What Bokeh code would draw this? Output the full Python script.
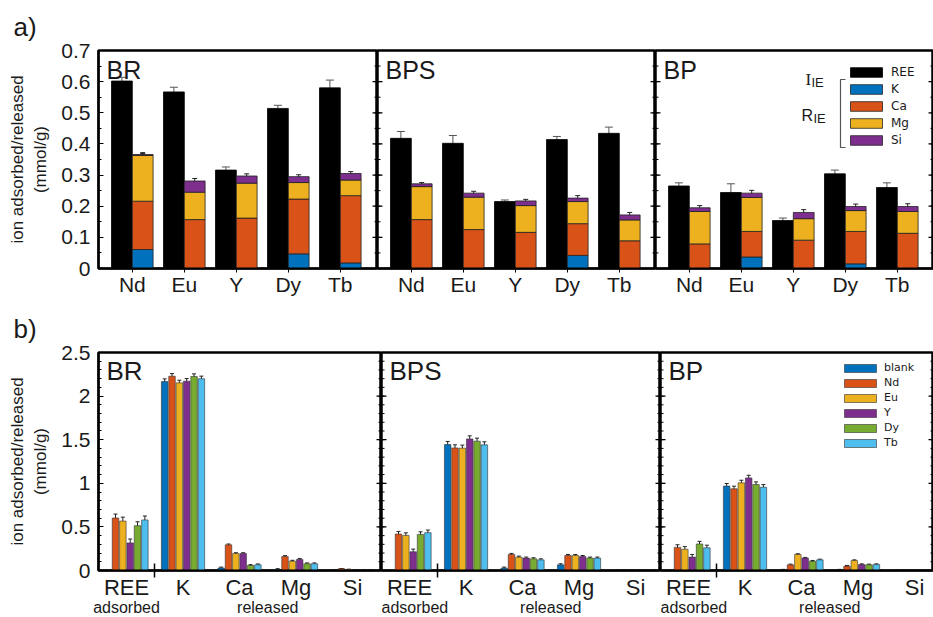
from bokeh.plotting import figure
from bokeh.models import (ColumnDataSource, FixedTicker, LinearAxis, Range1d,
                          Whisker, TeeHead, Legend, LegendItem, Label, Title)
from bokeh.layouts import row, column
from bokeh.embed import file_html
from bokeh.resources import INLINE

# ---------------- data ----------------
elements = ["Nd", "Eu", "Y", "Dy", "Tb"]
components = ["K", "Ca", "Mg", "Si"]

# panel a: REE adsorbed (I_IE) and ions released (R_IE), mmol/g
BR_REE = [0.602, 0.567, 0.316, 0.514, 0.580]
BR_REE_err = [0.012, 0.015, 0.010, 0.010, 0.025]
BR_K = [0.061, 0.0, 0.0, 0.047, 0.018]
BR_Ca = [0.155, 0.157, 0.162, 0.176, 0.216]
BR_Mg = [0.147, 0.088, 0.112, 0.053, 0.050]
BR_Si = [0.003, 0.036, 0.023, 0.019, 0.021]
BR_R_err = [0.006, 0.008, 0.007, 0.006, 0.006]

BPS_REE = [0.418, 0.402, 0.215, 0.414, 0.434]
BPS_REE_err = [0.022, 0.025, 0.005, 0.010, 0.020]
BPS_K = [0.0, 0.0, 0.0, 0.042, 0.0]
BPS_Ca = [0.157, 0.125, 0.116, 0.102, 0.089]
BPS_Mg = [0.106, 0.104, 0.086, 0.071, 0.067]
BPS_Si = [0.009, 0.013, 0.015, 0.011, 0.016]
BPS_R_err = [0.004, 0.006, 0.005, 0.008, 0.008]

BP_REE = [0.265, 0.244, 0.154, 0.304, 0.260]
BP_REE_err = [0.010, 0.028, 0.008, 0.012, 0.015]
BP_K = [0.0, 0.037, 0.0, 0.015, 0.0]
BP_Ca = [0.079, 0.082, 0.091, 0.104, 0.113]
BP_Mg = [0.104, 0.109, 0.069, 0.067, 0.070]
BP_Si = [0.012, 0.014, 0.020, 0.013, 0.016]
BP_R_err = [0.007, 0.009, 0.009, 0.008, 0.009]

# panel b: ions adsorbed / released per solution, mmol/g
ions = ["REE", "K", "Ca", "Mg", "Si"]
series = ["blank", "Nd", "Eu", "Y", "Dy", "Tb"]

BR_blank = [0.0, 2.167, 0.029, 0.011, 0.005]
BR_Nd = [0.602, 2.228, 0.294, 0.160, 0.020]
BR_Eu = [0.567, 2.152, 0.194, 0.107, 0.012]
BR_Y = [0.316, 2.171, 0.194, 0.127, 0.008]
BR_Dy = [0.514, 2.225, 0.057, 0.077, 0.006]
BR_Tb = [0.580, 2.199, 0.065, 0.077, 0.006]
BR_err = [0.045, 0.030, 0.010, 0.010, 0.003]

BPS_blank = [0.0, 1.445, 0.027, 0.065, 0.004]
BPS_Nd = [0.418, 1.406, 0.184, 0.172, 0.004]
BPS_Eu = [0.402, 1.403, 0.153, 0.172, 0.004]
BPS_Y = [0.215, 1.509, 0.142, 0.160, 0.004]
BPS_Dy = [0.414, 1.483, 0.134, 0.142, 0.004]
BPS_Tb = [0.434, 1.441, 0.122, 0.142, 0.004]
BPS_err = [0.030, 0.035, 0.012, 0.012, 0.002]

BP_blank = [0.0, 0.968, 0.005, 0.005, 0.003]
BP_Nd = [0.265, 0.937, 0.065, 0.050, 0.003]
BP_Eu = [0.244, 1.005, 0.184, 0.114, 0.003]
BP_Y = [0.154, 1.062, 0.142, 0.068, 0.003]
BP_Dy = [0.304, 0.986, 0.107, 0.065, 0.003]
BP_Tb = [0.260, 0.955, 0.122, 0.068, 0.003]
BP_err = [0.030, 0.030, 0.008, 0.008, 0.002]

# ---------------- style ----------------
FONT = "Liberation Sans"
LEG_FONT = "DejaVu Sans"
INK = "#1a1a1a"
COMP_COLORS = ["#0072BD", "#D95319", "#EDB120", "#7E2F8E"]
SERIES_COLORS = ["#0072BD", "#D95319", "#EDB120", "#7E2F8E", "#77AC30", "#4DBEEE"]

FH = 218
A_X0, A_PPU, A_TOP, A_BOT = 0.35, 52.0, 50, 32
B_X0, B_PPU, B_TOP, B_BOT = 0.504, 56.5, 52, 47
A_TICKS = [round(0.1 * i, 2) for i in range(8)]
A_MINOR = [round(0.05 * i, 3) for i in range(15)]
B_TICKS = [round(0.5 * i, 2) for i in range(6)]
B_MINOR = [round(0.1 * i, 2) for i in range(26)]


def base_fig(fw, x0, ppu, y1, left, top, bottom):
    p = figure(frame_width=fw, frame_height=FH,
               x_range=Range1d(x0, x0 + fw / ppu), y_range=Range1d(0, y1),
               x_axis_type=None, y_axis_type=None, title=None,
               output_backend="svg", toolbar_location=None,
               min_border_left=left, min_border_right=0,
               min_border_top=top, min_border_bottom=bottom)
    p.outline_line_color = "black"
    p.outline_line_width = 2.5
    p.background_fill_color = "white"
    p.border_fill_color = "white"
    return p


def edge_ticks(p, x, ticks, minor):
    # inward tick marks on a panel divider (half of each dash is clipped by the frame)
    p.scatter(x=[x] * len(ticks), y=ticks, marker="dash", size=10,
              line_color="black", line_width=1.2)
    p.scatter(x=[x] * len(minor), y=minor, marker="dash", size=6,
              line_color="black", line_width=1)


def label_axis(ticks, minor):
    return LinearAxis(ticker=FixedTicker(ticks=ticks, minor_ticks=minor),
                      major_label_overrides={0: "0"},
                      major_tick_in=5, major_tick_out=0, minor_tick_in=3, minor_tick_out=0,
                      major_label_standoff=8, major_label_text_font_size="21px",
                      major_label_text_font=FONT, major_label_text_color=INK,
                      axis_label="ion adsorbed/released\n(mmol/g)",
                      axis_label_text_font=FONT, axis_label_text_font_size="17px",
                      axis_label_text_font_style="normal", axis_label_text_color=INK,
                      axis_label_standoff=8, axis_line_width=2)


def add_title(p, text):
    p.title = Title(text=text, align="left", offset=-85, text_font=FONT,
                    text_font_size="26px", text_font_style="normal",
                    text_color=INK, standoff=17)


def whisker(p, xs, tops, errs, color, size):
    src = ColumnDataSource(dict(x=xs, upper=[t + e for t, e in zip(tops, errs)],
                                lower=[t - e for t, e in zip(tops, errs)]))
    w = Whisker(base="x", upper="upper", lower="lower", source=src, dimension="height",
                line_color=color, line_width=1,
                upper_head=TeeHead(size=size, line_color=color, line_width=1),
                lower_head=TeeHead(size=size, line_color=color, line_width=1))
    p.add_layout(w)


def panel_a(name, ree, ree_err, k, ca, mg, si, r_err, fw, left, first, legend):
    p = base_fig(fw, A_X0, A_PPU, 0.7, left, A_TOP, A_BOT)
    cats = list(range(1, len(elements) + 1))
    src = ColumnDataSource(dict(xr=[c - 0.2 for c in cats], xs=[c + 0.2 for c in cats],
                                REE=ree, K=k, Ca=ca, Mg=mg, Si=si))
    r_ree = p.vbar(x="xr", top="REE", width=0.4, source=src,
                   fill_color="black", line_color="black", line_width=0.8)
    r_stack = p.vbar_stack(components, x="xs", width=0.4, source=src,
                           fill_color=COMP_COLORS, line_color="#222222", line_width=0.8)
    whisker(p, src.data["xr"], ree, ree_err, "#555555", 8)
    wx, wt, we = [], [], []
    for i, c in enumerate(cats):
        cum = 0.0
        for comp in (k, ca, mg, si):
            if comp[i] > 0:
                cum += comp[i]
                wx.append(c + 0.2)
                wt.append(cum)
                we.append(r_err[i])
    whisker(p, wx, wt, we, "#222222", 5)

    xa = LinearAxis(ticker=FixedTicker(ticks=cats),
                    major_label_overrides={c: e for c, e in zip(cats, elements)},
                    major_tick_out=4, major_tick_in=0, major_label_standoff=0,
                    major_label_text_font_size="21px", major_label_text_font=FONT,
                    major_label_text_color=INK, axis_line_width=2)
    p.add_layout(xa, "below")
    if first:
        p.add_layout(label_axis(A_TICKS, A_MINOR), "left")
        add_title(p, "a)")
    else:
        edge_ticks(p, p.x_range.start, A_TICKS, A_MINOR)
    edge_ticks(p, p.x_range.end, A_TICKS, A_MINOR)
    p.add_layout(Label(x=8, y=FH - 5, x_units="screen", y_units="screen", text=name,
                       text_font=FONT, text_font_size="25px", text_baseline="top",
                       text_color=INK))
    if legend:
        items = [LegendItem(label="REE", renderers=[r_ree])] + \
                [LegendItem(label=c, renderers=[r]) for c, r in zip(components, r_stack)]
        lg = Legend(items=items, location=(191, 121), glyph_width=40, glyph_height=12,
                    label_height=12, spacing=3, padding=0, margin=0, label_standoff=5,
                    border_line_color=None, background_fill_alpha=0,
                    label_text_font=LEG_FONT, label_text_font_size="12px",
                    label_text_color=INK)
        p.add_layout(lg)
        for txt, x, y, size, font in [("I", 150, 189, "17px", "Liberation Serif"),
                                      ("IE", 156, 186, "13px", FONT),
                                      ("R", 146, 153, "16px", FONT),
                                      ("IE", 158, 150, "13px", FONT)]:
            p.add_layout(Label(x=x, y=y, x_units="screen", y_units="screen", text=txt,
                               text_font=font, text_font_size=size,
                               text_baseline="alphabetic", text_color=INK))

        def dx(px):
            return A_X0 + px / A_PPU

        def dy(px):
            return px / FH * 0.7
        p.line(x=[dx(190), dx(185), dx(185), dx(190)], y=[dy(189), dy(189), dy(121), dy(121)],
               line_color="#555555", line_width=1.2)
    return p


def panel_b(name, vals, err, fw, left, first, legend):
    p = base_fig(fw, B_X0, B_PPU, 2.5, left, B_TOP, B_BOT)
    groups = list(range(1, len(ions) + 1))
    step = 0.13
    renderers = []
    for i, (s, v, col) in enumerate(zip(series, vals, SERIES_COLORS)):
        xs = [g + (i - 2.5) * step for g in groups]
        src = ColumnDataSource(dict(x=xs, top=v))
        r = p.vbar(x="x", top="top", width=0.115, source=src, fill_color=col,
                   line_color="#333333", line_width=0.6)
        renderers.append(r)
        keep = [j for j in range(len(v)) if v[j] > 0]
        whisker(p, [xs[j] for j in keep], [v[j] for j in keep], [err[j] for j in keep],
                "#222222", 4)
    xa = LinearAxis(ticker=FixedTicker(ticks=groups, minor_ticks=[1.5]),
                    major_label_overrides={g: n for g, n in zip(groups, ions)},
                    major_tick_out=0, major_tick_in=0, minor_tick_in=7, minor_tick_out=7,
                    minor_tick_line_width=1.5, minor_tick_line_color="black",
                    major_label_standoff=-3, major_label_text_font_size="22px",
                    major_label_text_font=FONT, major_label_text_color=INK,
                    axis_line_width=2)
    p.add_layout(xa, "below")
    xa2 = LinearAxis(ticker=FixedTicker(ticks=[1, 3.5], minor_ticks=[]),
                     major_label_overrides={1: "adsorbed", 3.5: "released"},
                     axis_line_color=None, major_tick_line_color=None,
                     minor_tick_line_color=None, major_label_standoff=-10,
                     major_label_text_font=FONT, major_label_text_font_size="16px",
                     major_label_text_color=INK)
    p.add_layout(xa2, "below")
    if first:
        p.add_layout(label_axis(B_TICKS, B_MINOR), "left")
        add_title(p, "b)")
    else:
        edge_ticks(p, p.x_range.start, B_TICKS, B_MINOR)
    edge_ticks(p, p.x_range.end, B_TICKS, B_MINOR)
    p.add_layout(Label(x=8, y=FH - 3, x_units="screen", y_units="screen", text=name,
                       text_font=FONT, text_font_size="26px", text_baseline="top",
                       text_color=INK))
    if legend:
        items = [LegendItem(label=s, renderers=[r]) for s, r in zip(series, renderers)]
        lg = Legend(items=items, location=(180, 121), glyph_width=40, glyph_height=10,
                    label_height=10, spacing=2, padding=0, margin=0, label_standoff=4,
                    border_line_color=None, background_fill_alpha=0,
                    label_text_font=LEG_FONT, label_text_font_size="11px",
                    label_text_color=INK)
        p.add_layout(lg)
    return p


a1 = panel_a("BR", BR_REE, BR_REE_err, BR_K, BR_Ca, BR_Mg, BR_Si, BR_R_err, 279, 98, True, False)
a2 = panel_a("BPS", BPS_REE, BPS_REE_err, BPS_K, BPS_Ca, BPS_Mg, BPS_Si, BPS_R_err, 278, 0, False, False)
a3 = panel_a("BP", BP_REE, BP_REE_err, BP_K, BP_Ca, BP_Mg, BP_Si, BP_R_err, 278, 0, False, True)

b1 = panel_b("BR", [BR_blank, BR_Nd, BR_Eu, BR_Y, BR_Dy, BR_Tb], BR_err, 283, 98, True, False)
b2 = panel_b("BPS", [BPS_blank, BPS_Nd, BPS_Eu, BPS_Y, BPS_Dy, BPS_Tb], BPS_err, 279, 0, False, False)
b3 = panel_b("BP", [BP_blank, BP_Nd, BP_Eu, BP_Y, BP_Dy, BP_Tb], BP_err, 273, 0, False, True)

layout = column(row(a1, a2, a3, spacing=0), row(b1, b2, b3, spacing=0), spacing=0)

with open("out.html", "w") as f:
    f.write(file_html(layout, INLINE))
